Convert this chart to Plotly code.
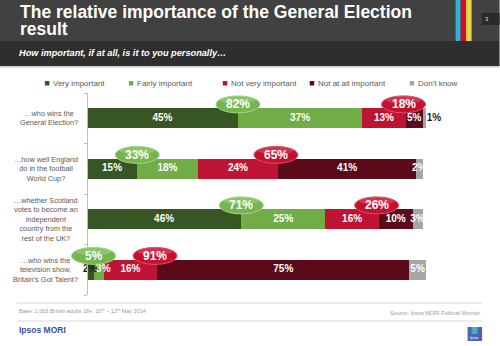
import plotly.graph_objects as go

# ---------------- data ----------------
questions = [
    "…who wins the<br>General Election?",
    "…how well England<br>do in the football<br>World Cup?",
    "…whether Scotland<br>votes to become an<br>independent<br>country from the<br>rest of the UK?",
    "…who wins the<br>television show,<br>Britain's Got Talent?",
]
series_names = ["Very important", "Fairly important", "Not very important",
                "Not at all important", "Don't know"]
very_important = [45, 15, 46, 2]
fairly_important = [37, 18, 25, 3]
not_very_important = [13, 24, 16, 16]
not_at_all_important = [5, 41, 10, 75]
dont_know = [1, 2, 3, 5]

series_values = [very_important, fairly_important, not_very_important,
                 not_at_all_important, dont_know]
series_colors = ["#375623", "#70ad47", "#be1332", "#5c0a1a", "#a6a6a6"]

FONT = "Arial, Liberation Sans, sans-serif"

# geometry: x=0 sits at pixel 87, 3.36 px per percentage point
X0_PX, PX_PER = 87, 3.36
XMIN, XMAX = -22, 115
T, H = 93, 202
FIG_W, FIG_H = 500, 346
L = X0_PX + XMIN * PX_PER
W = (XMAX - XMIN) * PX_PER


def fx(px):
    return (px - L) / W


def fy(py):
    return (T + H - py) / H


ypos = list(range(len(questions)))

fig = go.Figure()

# stacked bars
for name, vals, col in zip(series_names, series_values, series_colors):
    fig.add_trace(go.Bar(
        y=ypos, x=vals, name=name, orientation="h",
        marker=dict(color=col, line=dict(width=0)),
        width=0.4, showlegend=False, hoverinfo="skip",
    ))

# segment labels
lx, ly, lt, lc = [], [], [], []
for qi in range(len(questions)):
    cum = 0
    prev_tiny = False
    for si, vals in enumerate(series_values):
        v = vals[qi]
        center = cum + v / 2
        color = "white"
        last = si == len(series_values) - 1
        if last and v < 2:
            center = cum + v + 2.4
            color = "#262626"
        if si == 0 and v <= 2:
            color = "#1a1a1a"
        if prev_tiny and v <= 3 and not last:
            center += 1.4
        prev_tiny = (si == 0 and v <= 2)
        lx.append(center)
        ly.append(qi)
        lt.append(f"{v}%")
        lc.append(color)
        cum += v

fig.add_trace(go.Scatter(
    x=lx, y=ly, text=lt, mode="text", textposition="middle center",
    textfont=dict(family=FONT, size=10, color=lc, weight="bold"),
    showlegend=False, hoverinfo="skip", cliponaxis=False,
))

shapes = []
annotations = []

# category labels (centre-aligned blocks, right edge near the axis)
for qi, q in enumerate(questions):
    annotations.append(dict(x=-2.1, y=qi, xref="x", yref="y", text=q, showarrow=False,
                            xanchor="right", yanchor="middle", align="center",
                            font=dict(family=FONT, size=7.3, color="#595959")))

# bubbles (net important / net not important)
bw, bh, boff = 6.55, 0.168, 0.275
for qi in range(len(questions)):
    imp = very_important[qi] + fairly_important[qi]
    notimp = not_very_important[qi] + not_at_all_important[qi]
    gx = very_important[qi]
    rx = very_important[qi] + fairly_important[qi] + not_very_important[qi] - 0.7
    cy = qi - boff
    for cx, val, fill, edge, hi in [
        (gx, imp, "#74b54e", "#a5d58a", "#a9d98e"),
        (rx, notimp, "#c3112f", "#e2506b", "#e5607a"),
    ]:
        shapes.append(dict(type="circle", xref="x", yref="y",
                           x0=cx - bw, x1=cx + bw, y0=cy - bh, y1=cy + bh,
                           fillcolor=fill, line=dict(color=edge, width=1),
                           layer="above"))
        shapes.append(dict(type="circle", xref="x", yref="y",
                           x0=cx - bw * 0.8, x1=cx + bw * 0.8,
                           y0=cy - bh * 0.95, y1=cy - bh * 0.05,
                           fillcolor=hi, opacity=0.45, line=dict(width=0),
                           layer="above"))
        annotations.append(dict(x=cx, y=cy, xref="x", yref="y", text=f"{val}%",
                                showarrow=False,
                                font=dict(family=FONT, size=12, color="white",
                                          weight="bold")))

# ---------------- header ----------------
shapes += [
    dict(type="rect", xref="paper", yref="paper", x0=fx(0), x1=fx(500),
         y0=fy(41), y1=fy(0), fillcolor="#414141", line=dict(width=0), layer="below"),
    dict(type="rect", xref="paper", yref="paper", x0=fx(0), x1=fx(500),
         y0=fy(66), y1=fy(41), fillcolor="#2e2e2e", line=dict(width=0), layer="below"),
    dict(type="rect", xref="paper", yref="paper", x0=fx(0), x1=fx(500),
         y0=fy(67.5), y1=fy(66), fillcolor="#cfcfcf", line=dict(width=0), layer="below"),
    dict(type="rect", xref="paper", yref="paper", x0=fx(456), x1=fx(461),
         y0=fy(41), y1=fy(0), fillcolor="#2ab4d6", line=dict(width=0), layer="below"),
    dict(type="rect", xref="paper", yref="paper", x0=fx(461), x1=fx(466.5),
         y0=fy(41), y1=fy(0), fillcolor="#c8102e", line=dict(width=0), layer="below"),
    dict(type="rect", xref="paper", yref="paper", x0=fx(466.5), x1=fx(472),
         y0=fy(41), y1=fy(0), fillcolor="#e8d34c", line=dict(width=0), layer="below"),
    dict(type="rect", xref="paper", yref="paper", x0=fx(482), x1=fx(500),
         y0=fy(25), y1=fy(13), fillcolor="#2a2a2a", line=dict(width=0), layer="below"),
    # footer lines
    dict(type="line", xref="paper", yref="paper", x0=fx(17), x1=fx(483),
         y0=fy(303), y1=fy(303), line=dict(color="#d9d9d9", width=1)),
    dict(type="line", xref="paper", yref="paper", x0=fx(17), x1=fx(483),
         y0=fy(321), y1=fy(321), line=dict(color="#d9d9d9", width=1)),
    # logo
    dict(type="rect", xref="paper", yref="paper", x0=fx(468), x1=fx(482.5),
         y0=fy(341), y1=fy(327), fillcolor="#4a64b8", line=dict(width=0)),
    dict(type="rect", xref="paper", yref="paper", x0=fx(472), x1=fx(478),
         y0=fy(334), y1=fy(327), fillcolor="#3fb0c8", line=dict(width=0)),
]

annotations += [
    dict(text="The relative importance of the General Election", x=fx(18), y=fy(11.5),
         xref="paper", yref="paper", xanchor="left", yanchor="middle", showarrow=False,
         font=dict(family=FONT, size=17.5, color="white", weight="bold")),
    dict(text="result", x=fx(18), y=fy(29.5),
         xref="paper", yref="paper", xanchor="left", yanchor="middle", showarrow=False,
         font=dict(family=FONT, size=17.5, color="white", weight="bold")),
    dict(text="<i>How important, if at all, is it to you personally…</i>", x=fx(17), y=fy(53),
         xref="paper", yref="paper", xanchor="left", yanchor="middle", showarrow=False,
         font=dict(family=FONT, size=9.2, color="white", weight="bold")),
    dict(text="3", x=fx(487.5), y=fy(19), xref="paper", yref="paper",
         xanchor="center", yanchor="middle", showarrow=False,
         font=dict(family=FONT, size=6, color="#dddddd")),
    dict(text="Base: 1,003 British adults 18+, 10<sup>th</sup> – 12<sup>th</sup> May 2014",
         x=fx(17), y=fy(311), xref="paper", yref="paper", xanchor="left", yanchor="middle",
         showarrow=False, font=dict(family=FONT, size=5.5, color="#9a9a9a")),
    dict(text="Source: Ipsos MORI Political Monitor",
         x=fx(482), y=fy(313), xref="paper", yref="paper", xanchor="right", yanchor="middle",
         showarrow=False, font=dict(family=FONT, size=5.5, color="#9a9a9a")),
    dict(text="Ipsos MORI", x=fx(17), y=fy(330), xref="paper", yref="paper",
         xanchor="left", yanchor="middle", showarrow=False,
         font=dict(family=FONT, size=8.5, color="#3d4f9f", weight="bold")),
    dict(text="Ipsos", x=fx(475.2), y=fy(337.5), xref="paper", yref="paper",
         xanchor="center", yanchor="middle", showarrow=False,
         font=dict(family=FONT, size=3.5, color="white")),
]

# legend (drawn as markers + text)
legend_x = [45, 129, 223, 310, 410]
for name, col, x in zip(series_names, series_colors, legend_x):
    shapes.append(dict(type="rect", xref="paper", yref="paper", x0=fx(x), x1=fx(x + 4.5),
                       y0=fy(85.5), y1=fy(81), fillcolor=col, line=dict(width=0)))
    annotations.append(dict(text=name, x=fx(x + 6), y=fy(83.2), xref="paper", yref="paper",
                            xanchor="left", yanchor="middle", showarrow=False,
                            font=dict(family=FONT, size=8, color="#595959")))

fig.update_layout(
    width=FIG_W, height=FIG_H,
    margin=dict(l=L, r=FIG_W - L - W, t=T, b=FIG_H - T - H, pad=0),
    barmode="stack",
    paper_bgcolor="white", plot_bgcolor="white",
    showlegend=False,
    shapes=shapes, annotations=annotations,
    xaxis=dict(range=[XMIN, XMAX], showgrid=False, zeroline=False, showticklabels=False,
               showline=False, fixedrange=True),
    yaxis=dict(range=[3.5, -0.5], tickmode="array", tickvals=ypos,
               anchor="free", position=(0 - XMIN) / (XMAX - XMIN),
               showgrid=False, zeroline=False, showline=True, linecolor="#bfbfbf",
               linewidth=1, ticks="", showticklabels=False,
               minor=dict(tickmode="array", tickvals=[-0.5, 0.5, 1.5, 2.5, 3.5],
                          ticks="outside", ticklen=3, tickcolor="#bfbfbf"),
               fixedrange=True),
)

fig.write_html("out.html")
